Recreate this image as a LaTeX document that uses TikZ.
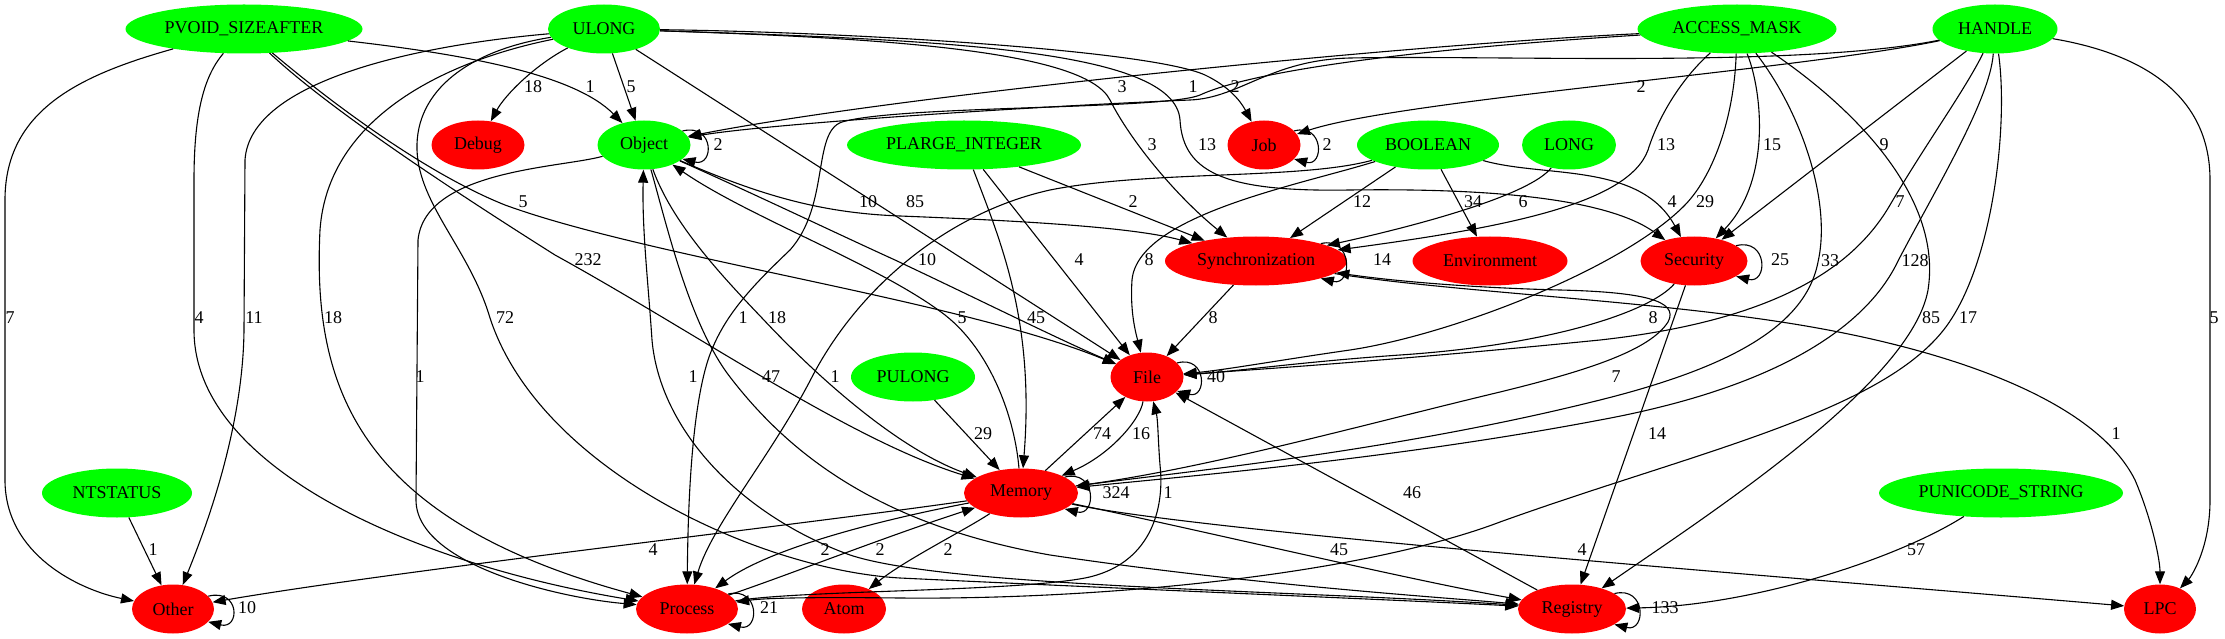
\documentclass[tikz,border=0pt]{standalone}
\usepackage{fontspec}
\setmainfont{Liberation Serif}
\usetikzlibrary{shapes.geometric,arrows.meta}
\definecolor{gnode}{RGB}{0,255,0}
\definecolor{rnode}{RGB}{255,0,0}
\tikzset{
 nd/.style={ellipse, inner sep=0pt, minimum height=49pt, font=\fontsize{18}{20}\selectfont},
 gn/.style={nd, fill=gnode},
 rn/.style={nd, fill=rnode},
 e/.style={line width=1.1pt, -{Triangle[length=13pt,width=10pt]}},
 lbl/.style={font=\fontsize{18}{20}\selectfont, inner sep=0pt},
}
\begin{document}
\begin{tikzpicture}[x=1pt,y=-1pt]
\fill[white] (0,0) rectangle (2225,639);
\useasboundingbox (0,0) rectangle (2225,639);
% nodes
\node[gn, minimum width=237pt] (pvoid) at (244,29) {PVOID\_SIZEAFTER};
\node[gn, minimum width=112pt] (ulong) at (604,29) {ULONG};
\node[gn, minimum width=199pt] (amask) at (1737,29) {ACCESS\_MASK};
\node[gn, minimum width=125pt] (handle) at (1995,29) {HANDLE};
\node[rn, minimum width=93pt] (debug) at (478,145) {Debug};
\node[gn, minimum width=93pt] (object) at (644,145) {Object};
\node[gn, minimum width=234pt] (plarge) at (964,145) {PLARGE\_INTEGER};
\node[rn, minimum width=73pt] (job) at (1264,145) {Job};
\node[gn, minimum width=142pt] (bool) at (1428,145) {BOOLEAN};
\node[gn, minimum width=94pt] (long) at (1569,145) {LONG};
\node[rn, minimum width=182pt] (sync) at (1256,261) {Synchronization};
\node[rn, minimum width=155pt] (env) at (1490,261) {Environment};
\node[rn, minimum width=107pt] (sec) at (1694,261) {Security};
\node[gn, minimum width=124pt] (pulong) at (913,377) {PULONG};
\node[rn, minimum width=73pt] (file) at (1147,377) {File};
\node[gn, minimum width=150pt] (ntstatus) at (117,493) {NTSTATUS};
\node[rn, minimum width=114pt] (memory) at (1021,493) {Memory};
\node[gn, minimum width=244pt] (punicode) at (2001,493) {PUNICODE\_STRING};
\node[rn, minimum width=82pt] (other) at (173,609) {Other};
\node[rn, minimum width=102pt] (process) at (687,609) {Process};
\node[rn, minimum width=84pt] (atom) at (844,609) {Atom};
\node[rn, minimum width=108pt] (registry) at (1572,609) {Registry};
\node[rn, minimum width=72pt] (lpc) at (2160,609) {LPC};

% PVOID_SIZEAFTER
\draw[e] (pvoid) .. controls (80,75) and (5,110) .. (5,200) -- (5,480) .. controls (5,555) and (80,590) .. (other);
\draw[e] (pvoid) .. controls (205,75) and (194,110) .. (194,180) -- (194,330) .. controls (194,470) and (420,565) .. (process);
\draw[e] (pvoid) .. controls (470,55) and (575,75) .. (object);
\draw[e] (pvoid) .. controls (340,110) and (430,175) .. (505,205) .. controls (650,258) and (960,300) .. (file);
\draw[e] (pvoid) .. controls (330,110) and (460,195) .. (555,255) .. controls (700,335) and (850,440) .. (memory);
% ULONG
\draw[e] (ulong) .. controls (535,65) and (505,95) .. (debug);
\draw[e] (ulong) -- (object);
\draw[e] (ulong) .. controls (850,32) and (1150,50) .. (1205,75) .. controls (1228,86) and (1240,100) .. (job);
\draw[e] (ulong) .. controls (880,38) and (1085,50) .. (1110,100) .. controls (1130,140) and (1175,195) .. (sync);
\draw[e] (ulong) .. controls (950,40) and (1175,50) .. (1180,120) .. controls (1183,175) and (1230,192) .. (1350,190) .. controls (1500,188) and (1610,200) .. (sec);
\draw[e] (ulong) -- (file);
\draw[e] (ulong) .. controls (420,45) and (250,80) .. (245,160) -- (244,330) .. controls (243,430) and (205,530) .. (other);
\draw[e] (ulong) .. controls (450,60) and (328,115) .. (320,230) .. controls (312,390) and (360,520) .. (process);
\draw[e] (ulong) .. controls (470,50) and (415,90) .. (417,150) .. controls (419,205) and (470,250) .. (490,318) .. controls (540,470) and (760,570) .. (900,578) .. controls (1150,590) and (1400,600) .. (registry);
% Object
\draw[e] (object.20) .. controls +(32,-8) and +(32,8) .. (object.-20);
\draw[e] (object) .. controls (760,195) and (820,213) .. (900,216) .. controls (1000,220) and (1130,226) .. (sync);
\draw[e] (object) .. controls (750,192) and (840,235) .. (895,260) .. controls (980,300) and (1060,340) .. (file);
\draw[e] (object) .. controls (672,222) and (718,272) .. (762,318) .. controls (820,380) and (900,450) .. (memory);
\draw[e] (object) .. controls (560,168) and (425,170) .. (418,240) -- (416,500) .. controls (416,565) and (560,598) .. (process);
\draw[e] (object) .. controls (668,230) and (690,325) .. (730,377) .. controls (790,455) and (880,525) .. (1050,555) .. controls (1250,585) and (1450,598) .. (registry);
% PLARGE_INTEGER
\draw[e] (plarge) -- (sync);
\draw[e] (plarge) -- (file);
\draw[e] (plarge) .. controls (1000,240) and (1035,320) .. (memory);
% BOOLEAN
\draw[e] (bool) -- (sync);
\draw[e] (bool) -- (env);
\draw[e] (bool) .. controls (1545,178) and (1640,162) .. (sec);
\draw[e] (bool) .. controls (1300,185) and (1138,215) .. (1132,280) .. controls (1130,310) and (1135,330) .. (file);
\draw[e] (bool) .. controls (1300,180) and (1150,170) .. (1050,190) .. controls (950,212) and (860,285) .. (812,377) .. controls (772,455) and (712,525) .. (process);
% LONG
\draw[e] (long) .. controls (1530,195) and (1420,225) .. (sync);
% ACCESS_MASK
\draw[e] (amask) .. controls (1400,45) and (900,95) .. (object);
\draw[e] (amask) .. controls (1400,50) and (1250,72) .. (1200,95) .. controls (1165,110) and (900,105) .. (842,122) .. controls (812,132) and (830,205) .. (790,250) .. controls (750,288) and (722,318) .. (708,360) .. controls (692,410) and (688,500) .. (process);
\draw[e] (amask) .. controls (1680,80) and (1658,118) .. (1648,150) .. controls (1628,205) and (1500,228) .. (sync);
\draw[e] (amask) .. controls (1762,90) and (1772,180) .. (sec);
\draw[e] (amask) .. controls (1734,120) and (1712,178) .. (1684,206) .. controls (1620,270) and (1450,335) .. (1350,350) .. controls (1280,360) and (1225,370) .. (file);
\draw[e] (amask) .. controls (1800,110) and (1832,200) .. (1818,262) .. controls (1805,330) and (1720,370) .. (1600,400) .. controls (1400,450) and (1200,470) .. (memory);
\draw[e] (amask) .. controls (1850,105) and (1943,195) .. (1928,290) .. controls (1911,385) and (1700,520) .. (registry);
% HANDLE
\draw[e] (handle) .. controls (1800,70) and (1400,100) .. (job);
\draw[e] (handle) .. controls (1800,68) and (1500,55) .. (1350,58) .. controls (1270,60) and (1240,98) .. (1190,100) .. controls (1000,108) and (760,125) .. (object);
\draw[e] (handle) -- (sec);
\draw[e] (handle) .. controls (1965,90) and (1925,145) .. (1890,205) .. controls (1855,265) and (1780,320) .. (1600,340) .. controls (1400,360) and (1250,370) .. (file);
\draw[e] (handle) .. controls (1990,100) and (1935,190) .. (1898,261) .. controls (1870,320) and (1790,385) .. (1600,420) .. controls (1400,458) and (1200,475) .. (memory);
\draw[e] (handle) .. controls (2008,120) and (1995,250) .. (1952,318) .. controls (1895,410) and (1700,450) .. (1500,522) .. controls (1360,575) and (1100,600) .. (900,598) .. controls (810,597) and (765,598) .. (process);
\draw[e] (handle) .. controls (2150,55) and (2210,100) .. (2210,180) -- (2210,500) .. controls (2210,550) and (2190,578) .. (lpc);
% Job
\draw[e] (job.25) .. controls +(30,-8) and +(30,8) .. (job.-25);
% Synchronization
\draw[e] (sync.15) .. controls +(32,-8) and +(32,8) .. (sync.-15);
\draw[e] (sync) -- (file);
\draw[e] (sync) .. controls (1450,292) and (1650,300) .. (1800,325) .. controls (1950,350) and (2095,400) .. (2135,480) .. controls (2152,520) and (2160,560) .. (lpc);
% Security
\draw[e] (sec.20) .. controls +(32,-8) and +(32,8) .. (sec.-20);
\draw[e] (sec) .. controls (1650,312) and (1550,345) .. (1400,355) .. controls (1300,362) and (1230,372) .. (file);
\draw[e] (sec) -- (registry);
% File
\draw[e] (file.25) .. controls +(30,-8) and +(30,8) .. (file.-25);
\draw[e] (file) .. controls (1140,420) and (1110,455) .. (memory);
% Memory
\draw[e] (memory.20) .. controls +(32,-8) and +(32,8) .. (memory.-20);
\draw[e] (memory) -- (file);
\draw[e] (memory) .. controls (1015,420) and (992,352) .. (945,315) .. controls (880,265) and (750,218) .. (object);
\draw[e] (memory) .. controls (1200,470) and (1350,428) .. (1500,392) .. controls (1590,370) and (1650,350) .. (1668,322) .. controls (1680,300) and (1640,292) .. (1560,290) .. controls (1480,288) and (1400,282) .. (sync);
\draw[e] (memory) .. controls (800,525) and (400,570) .. (other);
\draw[e] (memory) .. controls (880,520) and (770,548) .. (process);
\draw[e] (memory) .. controls (965,530) and (905,560) .. (atom);
\draw[e] (memory) .. controls (1200,530) and (1400,578) .. (registry);
\draw[e] (memory) .. controls (1200,532) and (1800,578) .. (lpc);
% Process
\draw[e] (process.20) .. controls +(32,-8) and +(32,8) .. (process.-20);
\draw[e] (process) .. controls (780,578) and (890,535) .. (memory);
\draw[e] (process) .. controls (800,590) and (1010,592) .. (1085,578) .. controls (1150,565) and (1165,510) .. (1160,465) .. controls (1158,440) and (1158,420) .. (file);
% Registry
\draw[e] (registry.20) .. controls +(32,-8) and +(32,8) .. (registry.-20);
\draw[e] (registry) -- (file);
\draw[e] (registry) .. controls (1300,590) and (950,588) .. (850,555) .. controls (740,515) and (660,430) .. (652,340) .. controls (648,280) and (642,230) .. (object);
% others
\draw[e] (other.20) .. controls +(32,-8) and +(32,8) .. (other.-20);
\draw[e] (pulong) -- (memory);
\draw[e] (ntstatus) -- (other);
\draw[e] (punicode) .. controls (1895,560) and (1750,606) .. (registry);

% labels row 87
\node[lbl] (l01) at (533,87) {18};
\node[lbl] (l02) at (590,87) {1};
\node[lbl] (l03) at (631,87) {5};
\node[lbl] (l04) at (1122,87) {3};
\node[lbl] (l05) at (1193,87) {1};
\node[lbl] (l06) at (1235,87) {2};
\node[lbl] (l07) at (1641,87) {2};
% row 145
\node[lbl] (l08) at (718,145) {2};
\node[lbl] (l09) at (1152,145) {3};
\node[lbl] (l10) at (1207,145) {13};
\node[lbl] (l11) at (1327,145) {2};
\node[lbl] (l12) at (1666,145) {13};
\node[lbl] (l13) at (1772,145) {15};
\node[lbl] (l14) at (1884,145) {9};
% row 202
\node[lbl] (l15) at (523,202) {5};
\node[lbl] (l16) at (868,202) {10};
\node[lbl] (l17) at (915,202) {85};
\node[lbl] (l18) at (1133,202) {2};
\node[lbl] (l19) at (1362,202) {12};
\node[lbl] (l20) at (1473,202) {34};
\node[lbl] (l21) at (1523,202) {6};
\node[lbl] (l22) at (1672,202) {4};
\node[lbl] (l23) at (1705,202) {29};
\node[lbl] (l24) at (1900,202) {7};
% row 261
\node[lbl] (l25) at (588,260) {232};
\node[lbl] (l26) at (927,260) {10};
\node[lbl] (l27) at (1079,260) {4};
\node[lbl] (l28) at (1149,260) {8};
\node[lbl] (l29) at (1382,260) {14};
\node[lbl] (l30) at (1780,260) {25};
\node[lbl] (l31) at (1830,261) {33};
\node[lbl] (l32) at (1915,261) {128};
% row 318
\node[lbl] (l33) at (10,318) {7};
\node[lbl] (l34) at (199,318) {4};
\node[lbl] (l35) at (254,318) {11};
\node[lbl] (l36) at (333,318) {18};
\node[lbl] (l37) at (505,318) {72};
\node[lbl] (l38) at (743,318) {1};
\node[lbl] (l39) at (777,318) {18};
\node[lbl] (l40) at (962,318) {5};
\node[lbl] (l41) at (1036,318) {45};
\node[lbl] (l42) at (1213,318) {8};
\node[lbl] (l43) at (1653,318) {8};
\node[lbl] (l44) at (1931,318) {85};
\node[lbl] (l45) at (1968,318) {17};
\node[lbl] (l46) at (2214,318) {5};
% row 377
\node[lbl] (l47) at (420,377) {1};
\node[lbl] (l48) at (693,377) {1};
\node[lbl] (l49) at (771,377) {47};
\node[lbl] (l50) at (835,377) {1};
\node[lbl] (l51) at (1216,377) {40};
\node[lbl] (l52) at (1616,377) {7};
% row 434
\node[lbl] (l53) at (983,434) {29};
\node[lbl] (l54) at (1102,434) {74};
\node[lbl] (l55) at (1141,434) {16};
\node[lbl] (l56) at (1657,434) {14};
\node[lbl] (l57) at (2116,434) {1};
% row 493
\node[lbl] (l58) at (1116,493) {324};
\node[lbl] (l59) at (1168,493) {1};
\node[lbl] (l60) at (1412,493) {46};
% row 550
\node[lbl] (l61) at (153,550) {1};
\node[lbl] (l62) at (653,550) {4};
\node[lbl] (l63) at (825,550) {2};
\node[lbl] (l64) at (880,550) {2};
\node[lbl] (l65) at (948,550) {2};
\node[lbl] (l66) at (1339,550) {45};
\node[lbl] (l67) at (1582,550) {4};
\node[lbl] (l68) at (1916,550) {57};
% row 609
\node[lbl] (l69) at (247,608) {10};
\node[lbl] (l70) at (769,608) {21};
\node[lbl] (l71) at (1665,608) {133};
\end{tikzpicture}
\end{document}
